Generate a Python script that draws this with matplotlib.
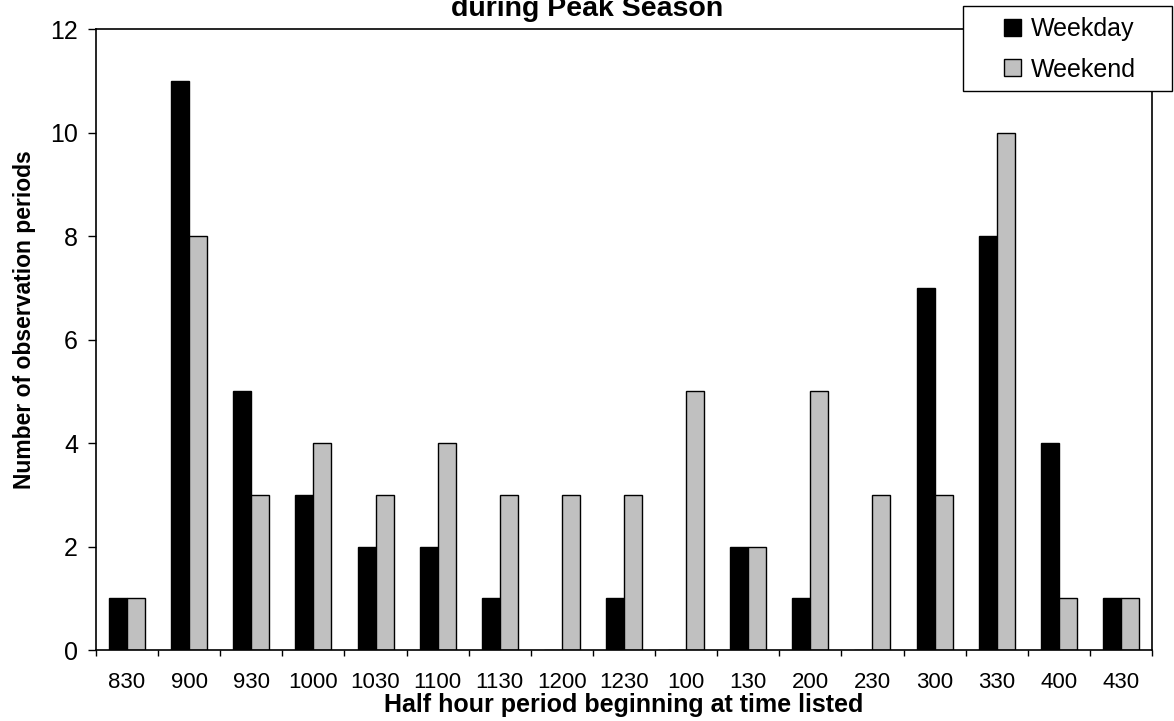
import matplotlib
matplotlib.use("Agg")
import matplotlib.pyplot as plt
from matplotlib.patches import Rectangle
import numpy as np

plt.rcParams['font.family'] = ['Liberation Sans', 'DejaVu Sans']

categories = ["830", "900", "930", "1000", "1030", "1100", "1130", "1200", "1230",
              "100", "130", "200", "230", "300", "330", "400", "430"]
weekday = [1, 11, 5, 3, 2, 2, 1, 0, 1, 0, 2, 1, 0, 7, 8, 4, 1]
weekend = [1, 8, 3, 4, 3, 4, 3, 3, 3, 5, 2, 5, 3, 3, 10, 1, 1]

W, H = 1174, 721
fig = plt.figure(figsize=(W / 100, H / 100), dpi=100)
ax = fig.add_axes([96 / W, 1 - 650 / H, (1152 - 96) / W, (650 - 29) / H])

x = np.arange(len(categories))
w = 0.29
ax.bar(x - w / 2, weekday, w, color='black', edgecolor='black', linewidth=1, label='Weekday')
ax.bar(x + w / 2, weekend, w, color='#c0c0c0', edgecolor='black', linewidth=1, label='Weekend')

ax.set_xlim(-0.5, len(categories) - 0.5)
ax.set_ylim(0, 12)
ax.set_yticks(range(0, 13, 2))
ax.set_xticks(x)
ax.set_xticklabels(categories)
ax.set_xticks(np.arange(-0.5, len(categories)), minor=True)
ax.tick_params(axis='x', which='major', length=0, labelsize=16, pad=16)
ax.tick_params(axis='x', which='minor', length=4.5, width=1, direction='out')
ax.tick_params(axis='y', length=6, width=1, direction='out', labelsize=18, pad=7)
for s in ax.spines.values():
    s.set_linewidth(1.2)

ax.set_xlabel('Half hour period beginning at time listed', fontsize=18, fontweight='bold', labelpad=0)
ax.set_ylabel('Number of observation periods', fontsize=16.5, fontweight='bold')
ax.yaxis.set_label_coords(-(96 - 36) / 1056, (650 - 320) / 621)

fig.text(587 / W, 1 - 16 / H, 'during Peak Season', ha='center', va='baseline',
         fontsize=20.5, fontweight='bold')

# legend frame
frame = Rectangle((963 / W, 1 - 91 / H), (1172 - 963) / W, (91 - 6) / H,
                  transform=fig.transFigure, facecolor='white', edgecolor='black',
                  linewidth=1, zorder=4)
fig.add_artist(frame)
handles, labels = ax.get_legend_handles_labels()
leg = fig.legend(handles, labels, loc='center', bbox_to_anchor=(1070 / W, 1 - 49.5 / H),
                 frameon=False, fontsize=18, handlelength=0.68, handleheight=0.68,
                 handletextpad=0.4, borderpad=0, labelspacing=0.65, borderaxespad=0)
leg.set_zorder(5)

fig.savefig('out.png', dpi=100)
